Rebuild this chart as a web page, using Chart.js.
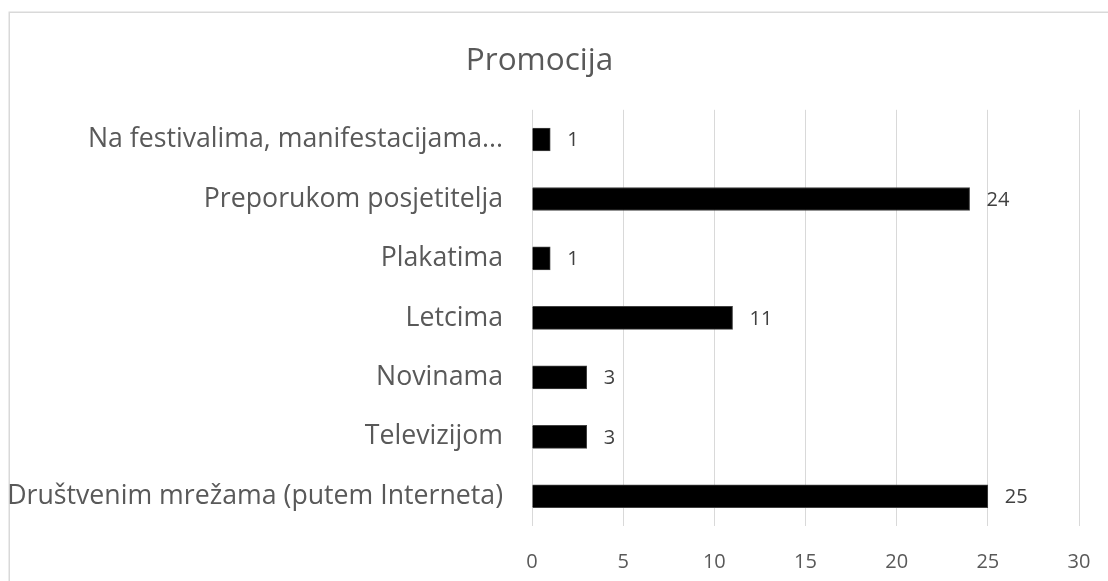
<!DOCTYPE html>
<html>
<head>
<meta charset="utf-8">
<script src="https://cdn.jsdelivr.net/npm/chart.js@4.4.1/dist/chart.umd.min.js"></script>
<style>
  html, body { margin: 0; padding: 0; background: #ffffff; }
  #wrap { position: relative; width: 1108px; height: 581px; }
</style>
</head>
<body>
<div id="wrap"><canvas id="c" width="1108" height="581"></canvas></div>
<script>
const chartTitle = 'Promocija';
const categories = [
  'Na festivalima, manifestacijama...',
  'Preporukom posjetitelja',
  'Plakatima',
  'Letcima',
  'Novinama',
  'Televizijom',
  'Društvenim mrežama (putem Interneta)'
];
const values = [1, 24, 1, 11, 3, 3, 25];
const xMin = 0, xMax = 30, xStep = 5;

const FONT = "'Open Sans', 'DejaVu Sans', sans-serif";

const frame = {
  id: 'frame',
  beforeDraw(chart) {
    const ctx = chart.ctx;
    ctx.save();
    ctx.fillStyle = '#ffffff';
    ctx.fillRect(0, 0, chart.width, chart.height);
    ctx.strokeStyle = '#d9d9d9';
    ctx.lineWidth = 1.5;
    ctx.strokeRect(9.25, 12.25, 1300, 800);
    ctx.restore();
  }
};

const valueLabels = {
  id: 'valueLabels',
  afterDatasetsDraw(chart) {
    const ctx = chart.ctx;
    ctx.save();
    ctx.font = '20px ' + FONT;
    ctx.fillStyle = '#404040';
    ctx.textAlign = 'left';
    ctx.textBaseline = 'middle';
    chart.getDatasetMeta(0).data.forEach((el, i) => {
      ctx.fillText(String(values[i]), el.x + 17, el.y + 1);
    });
    ctx.restore();
  }
};

new Chart(document.getElementById('c'), {
  type: 'bar',
  data: {
    labels: categories,
    datasets: [{
      data: values,
      backgroundColor: '#000000',
      borderColor: '#404040',
      borderWidth: 1,
      barThickness: 23
    }]
  },
  options: {
    indexAxis: 'y',
    responsive: false,
    animation: false,
    events: [],
    layout: { padding: { left: 0, right: 29, top: 0, bottom: 0 } },
    plugins: {
      legend: { display: false },
      tooltip: { enabled: false },
      title: {
        display: true,
        text: chartTitle,
        color: '#595959',
        font: { family: FONT, size: 31.5, weight: 'normal' },
        padding: { top: 42, bottom: 30 }
      }
    },
    scales: {
      x: {
        min: xMin, max: xMax,
        grid: { color: '#d9d9d9', lineWidth: 1, drawTicks: false },
        border: { display: false },
        ticks: {
          stepSize: xStep,
          color: '#595959',
          font: { family: FONT, size: 20 },
          padding: 24
        },
        afterFit(scale) {
          scale.height = 55;
          scale.paddingLeft = 0;
          scale.paddingRight = 0;
        }
      },
      y: {
        grid: { display: false, drawTicks: false },
        border: { display: false },
        ticks: {
          color: '#595959',
          font: { family: FONT, size: 26.7 },
          padding: 29
        },
        afterFit(scale) { scale.width = 532; }
      }
    }
  },
  plugins: [frame, valueLabels]
});
</script>
</body>
</html>
